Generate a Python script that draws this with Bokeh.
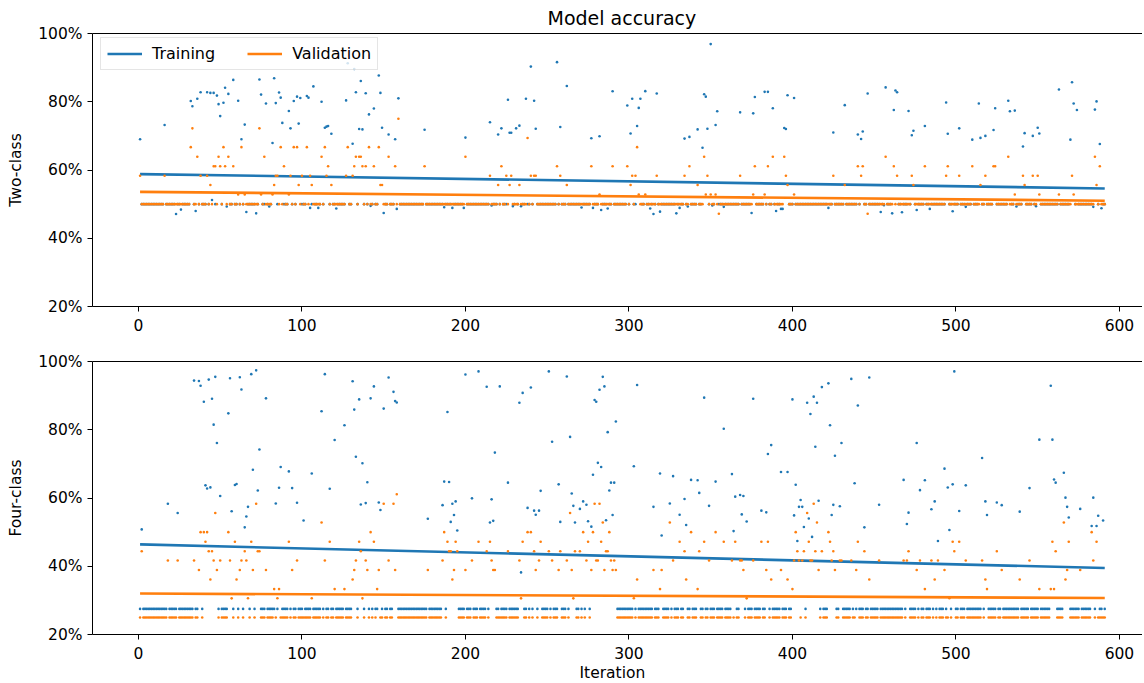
from bokeh.plotting import figure
from bokeh.models import Range1d, LinearAxis, FixedTicker, PrintfTickFormatter, Legend, LegendItem, Title
from bokeh.layouts import column
from bokeh.embed import file_html
from bokeh.resources import INLINE

# ---------------- data ----------------
iter_first, iter_last = 1, 591
x_ticks = [0, 100, 200, 300, 400, 500, 600]
y_ticks = [20, 40, 60, 80, 100]
trend_iters = [1, 591]

# Two-class panel
two_train_baseline = 50.0
two_val_baseline = 50.0
two_train_outliers = [
    (1, 69.0), (16, 73.2), (32, 80.2), (33, 78.7), (36, 80.9), (38, 82.8), (42, 82.8), (44, 82.6),
    (45, 51.2), (46, 82.6), (48, 81.8), (49, 79.3), (50, 75.8), (52, 79.7), (53, 84.1), (54, 49.3),
    (55, 82.3), (58, 86.4), (61, 80.3), (63, 69.0), (65, 73.3), (74, 86.5), (75, 82.1), (78, 79.5),
    (82, 67.9), (83, 86.9), (84, 79.6), (86, 82.7), (87, 81.2), (88, 73.8), (92, 77.3), (93, 72.2),
    (95, 80.2), (97, 81.5), (98, 73.6), (99, 81.1), (103, 81.7), (104, 81.2), (107, 84.5), (112, 80.0),
    (114, 72.4), (115, 72.7), (116, 72.9), (118, 70.6), (127, 80.4), (128, 91.3), (131, 67.7), (132, 89.6),
    (133, 82.8), (135, 72.0), (136, 86.1), (137, 71.9), (139, 82.5), (141, 76.3), (144, 78.0), (147, 87.7),
    (148, 82.6), (149, 72.4), (153, 70.4), (157, 69.0), (159, 81.0), (175, 71.8),
    (23, 47.1), (26, 48.4), (35, 48.0), (66, 47.7), (72, 47.3), (80, 49.3), (105, 48.9), (110, 48.9),
    (121, 48.7), (142, 49.5), (150, 47.4), (158, 48.6),
    (200, 69.5), (215, 74.0), (220, 70.4), (222, 72.2), (226, 80.6), (227, 70.9), (228, 70.9), (231, 72.2),
    (233, 73.0), (237, 80.9), (240, 90.3), (242, 80.3), (243, 72.1), (256, 91.6), (258, 72.6), (262, 84.6),
    (277, 69.3), (282, 69.9), (290, 83.1), (299, 78.9), (301, 70.7), (302, 80.9), (305, 72.9), (306, 78.2),
    (307, 80.9), (310, 83.1), (317, 82.4), (334, 69.2), (337, 69.7), (342, 71.9), (345, 66.5), (346, 82.2),
    (347, 81.5), (348, 72.1), (350, 96.9), (353, 73.2), (354, 77.2), (368, 76.9), (376, 76.6), (377, 81.4),
    (383, 82.9), (385, 82.9), (388, 78.1),
    (187, 49.1), (192, 48.9), (199, 48.9), (216, 49.6), (229, 49.4), (234, 49.4), (271, 49.0), (278, 48.9),
    (283, 48.3), (287, 48.7), (313, 48.7), (315, 47.1), (319, 47.8), (329, 47.3), (331, 48.9), (336, 49.3),
    (351, 49.6), (358, 49.2), (375, 47.4), (390, 48.0),
    (395, 72.3), (396, 72.0), (397, 81.9), (401, 81.1), (425, 71.0), (432, 79.0), (440, 70.4), (442, 69.1),
    (443, 71.3), (446, 82.4), (457, 84.2), (462, 77.6), (463, 83.3), (464, 82.8), (471, 77.3), (473, 70.2),
    (474, 71.5), (481, 72.9), (494, 79.8), (495, 70.6), (502, 72.2), (510, 68.9), (514, 79.5), (515, 69.4),
    (518, 70.0), (523, 71.7), (524, 78.1), (532, 80.3), (533, 77.2), (536, 77.4), (541, 66.9), (542, 70.8),
    (547, 70.0), (550, 72.4), (551, 70.7), (563, 83.6), (570, 68.9), (571, 85.7), (572, 79.5), (574, 77.6),
    (585, 77.7), (586, 80.1), (588, 67.6),
    (393, 48.6), (394, 48.6), (422, 48.9), (454, 47.7), (456, 49.7), (461, 47.3), (467, 47.6), (476, 48.3),
    (484, 48.6), (498, 47.9), (506, 49.2), (537, 49.3), (549, 49.4), (584, 49.2), (589, 48.8),
]
# validation accuracy levels (%) -> iterations at that level
two_val_levels = {
    75.0: [159],
    72.2: [33, 74],
    69.4: [238],
    66.7: [32, 52, 63, 87, 95, 97, 103, 114, 128, 141, 147, 305],
    63.9: [36, 49, 55, 77, 112, 133, 135, 136, 153, 200, 346, 388, 395, 457, 532, 585],
    61.1: [46, 47, 50, 53, 58, 89, 116, 132, 137, 139, 144, 157, 175, 222, 256, 277, 290, 299, 337,
           377, 385, 440, 443, 462, 481, 495, 510, 523, 524, 588],
    58.3: [1, 16, 38, 42, 84, 85, 93, 100, 105, 115, 127, 131, 215, 225, 228, 240, 242, 243, 258, 302,
           304, 317, 334, 348, 368, 396, 425, 442, 464, 473, 494, 502, 518, 541, 547, 550, 571],
    55.6: [44, 83, 98, 106, 118, 148, 149, 220, 227, 233, 262, 301, 342, 397, 432, 474, 515, 542, 586],
    52.8: [61, 65, 75, 82, 92, 282, 306, 310, 347, 350, 353, 376, 383, 401, 536, 551, 563, 572],
    47.2: [355, 446],
}
two_train_trend = [58.8, 54.6]
two_val_trend = [53.6, 51.0]

# Four-class panel
four_train_baseline = 27.5
four_val_baseline = 25.0
four_train_outliers = [
    (2, 50.8), (18, 58.3), (24, 55.6), (34, 94.4), (37, 94.3), (38, 92.9), (40, 88.2), (41, 63.7),
    (42, 62.8), (43, 94.7), (44, 63.1), (45, 89.1), (46, 81.5), (47, 95.5), (48, 76.1), (50, 60.6),
    (55, 84.8), (56, 95.1), (57, 56.1), (59, 63.8), (60, 64.1), (62, 95.4), (63, 91.8), (65, 51.4),
    (66, 54.6), (67, 57.4), (69, 96.3), (70, 68.3), (72, 97.4), (73, 62.2), (74, 74.2), (78, 89.2),
    (84, 58.4), (86, 63.0), (87, 69.1), (92, 67.8), (94, 62.9), (97, 58.6), (101, 53.4), (106, 67.2),
    (112, 85.4), (114, 96.3), (117, 62.7), (120, 77.0), (126, 81.3), (131, 94.2), (132, 85.9), (133, 72.1),
    (135, 88.9), (136, 58.1), (137, 70.2), (139, 58.5), (140, 64.6), (142, 89.2), (144, 92.7), (147, 58.7),
    (148, 56.5), (150, 86.2), (153, 95.3), (156, 91.1), (157, 88.4), (158, 88.0), (177, 53.9),
    (186, 57.9), (187, 64.8), (189, 85.2), (190, 64.7), (191, 53.0), (192, 58.3), (193, 55.0), (194, 59.0),
    (195, 50.5), (200, 96.2), (204, 59.9), (208, 97.1), (213, 92.6), (215, 52.8), (216, 59.6), (217, 53.3),
    (218, 73.3), (221, 92.7), (226, 64.5), (233, 87.9), (234, 38.2), (235, 90.8), (238, 57.1), (240, 92.4),
    (242, 56.3), (243, 55.1), (245, 56.3), (246, 62.1), (251, 97.1), (253, 76.5), (257, 64.0), (258, 53.0),
    (262, 95.6), (264, 77.9), (265, 61.3), (266, 57.7), (267, 52.8), (270, 56.8), (272, 59.0), (274, 58.0),
    (275, 53.2), (277, 51.6), (278, 66.8), (279, 88.7), (280, 88.2), (281, 70.3), (282, 91.7), (283, 69.1),
    (284, 95.5), (285, 92.7), (286, 53.5), (287, 79.3), (288, 62.2), (289, 64.5), (290, 55.0), (291, 64.5),
    (292, 82.4), (303, 69.3), (305, 93.1), (315, 57.4), (319, 67.2), (320, 49.0), (325, 58.4), (327, 66.4),
    (331, 55.1), (334, 59.7), (335, 52.1), (338, 65.3), (342, 65.2), (343, 61.5), (346, 89.4), (349, 57.7),
    (353, 64.8), (358, 80.3), (363, 67.0), (364, 50.3), (365, 60.4), (368, 60.9), (369, 55.2), (370, 60.6),
    (372, 53.1), (376, 89.1), (381, 56.3), (384, 55.8), (385, 72.9), (387, 75.5),
    (393, 67.6), (397, 67.6), (400, 88.9), (401, 54.9), (402, 63.9), (403, 47.4), (404, 57.4), (405, 59.4),
    (406, 57.4), (407, 51.5), (409, 87.9), (410, 54.0), (411, 84.6), (412, 48.6), (413, 89.7), (414, 75.0),
    (415, 87.9), (416, 59.2), (418, 92.5), (422, 93.6), (423, 81.3), (424, 55.0), (425, 58.0), (426, 72.4),
    (429, 57.6), (430, 76.1), (436, 94.9), (438, 64.3), (440, 87.1), (444, 51.4), (447, 95.3), (453, 58.0),
    (468, 65.3), (470, 52.4), (471, 55.7), (476, 76.1), (478, 62.3), (481, 65.2), (485, 56.7), (487, 59.0),
    (489, 47.4), (493, 68.6), (495, 63.1), (496, 50.6), (498, 64.0), (499, 97.1), (502, 56.2), (506, 63.7),
    (516, 71.7), (518, 59.0), (519, 55.0), (525, 58.7), (528, 57.9), (539, 56.0), (545, 62.9), (551, 77.1),
    (558, 92.9), (559, 77.1), (560, 65.4), (561, 64.5), (566, 67.4), (567, 60.1), (568, 57.4), (569, 54.3),
    (576, 56.8), (583, 51.8), (584, 60.1), (586, 51.8), (587, 54.8), (590, 53.4),
]
four_val_levels = {
    61.1: [158],
    58.3: [72, 150, 156, 279, 282, 413],
    55.6: [47, 264, 409],
    52.8: [112, 284, 325, 415, 566],
    50.0: [38, 40, 42, 55, 142, 187, 238, 240, 272, 278, 288, 338, 353, 402, 422, 583],
    47.2: [41, 59, 69, 92, 117, 135, 144, 189, 194, 208, 215, 235, 246, 275, 283, 331, 346, 358, 365,
           381, 385, 410, 423, 440, 498, 502, 559, 569, 586],
    44.4: [2, 43, 45, 65, 73, 74, 136, 190, 191, 195, 213, 226, 242, 251, 258, 267, 270, 286, 287, 334,
           343, 403, 407, 414, 418, 425, 444, 471, 499, 525, 561],
    41.7: [18, 24, 34, 46, 50, 56, 63, 66, 97, 114, 133, 139, 153, 186, 204, 216, 233, 245, 253, 262,
           274, 280, 281, 289, 291, 327, 349, 363, 368, 369, 376, 401, 404, 406, 411, 412, 424, 429, 430,
           436, 453, 468, 470, 478, 485, 489, 506, 516, 545, 584],
    38.9: [37, 48, 62, 70, 78, 94, 132, 140, 147, 157, 177, 193, 200, 217, 218, 243, 257, 265, 277, 285,
           290, 292, 315, 320, 370, 384, 393, 416, 426, 439, 476, 493, 528, 568, 576],
    36.1: [44, 60, 131, 192, 305, 335, 387, 397, 447, 487, 518, 539, 567],
    33.3: [83, 86, 120, 126, 146, 319, 342, 400, 481, 519, 551, 558, 560],
    30.6: [57, 67, 85, 106, 137, 234, 266, 303, 372, 496],
}
four_train_trend = [46.4, 39.5]
four_val_trend = [32.0, 30.7]

# ---------------- build series ----------------
iterations = list(range(iter_first, iter_last + 1))


def series_from_outliers(baseline, outliers):
    d = dict(outliers)
    return [d.get(i, baseline) for i in iterations]


def series_from_levels(baseline, levels):
    d = {}
    for lvl, its in levels.items():
        for i in its:
            d[i] = lvl
    return [d.get(i, baseline) for i in iterations]


BLUE = "#1f77b4"
ORANGE = "#ff7f0e"
FONT = "DejaVu Sans"
TICK_PX = "15.5px"
FRAME_W = 1050


def style_axis(ax, ticks, fmt=None, standoff=6):
    ax.ticker = FixedTicker(ticks=ticks, minor_ticks=[])
    if fmt is not None:
        ax.formatter = fmt
    ax.major_tick_out = 5
    ax.major_tick_in = 0
    ax.minor_tick_out = 0
    ax.minor_tick_in = 0
    ax.axis_line_color = "black"
    ax.major_tick_line_color = "black"
    ax.major_label_text_font = FONT
    ax.major_label_text_font_size = TICK_PX
    ax.major_label_text_color = "black"
    ax.major_label_standoff = standoff
    ax.axis_label_text_font = FONT
    ax.axis_label_text_font_size = TICK_PX
    ax.axis_label_text_font_style = "normal"
    ax.axis_label_text_color = "black"


def make_panel(ylabel, tr_y, va_y, tr_trend, va_trend, top_border, bottom_border, with_legend):
    p = figure(frame_width=FRAME_W, frame_height=273,
               x_range=Range1d(-28.1, -28.1 + FRAME_W / 1.635), y_range=Range1d(20, 100),
               output_backend="svg", toolbar_location=None,
               min_border_left=92, min_border_right=0,
               min_border_top=top_border, min_border_bottom=bottom_border,
               background_fill_color="white", border_fill_color="white")
    p.outline_line_color = None
    p.xgrid.visible = False
    p.ygrid.visible = False
    style_axis(p.xaxis[0], x_ticks, standoff=7)
    style_axis(p.yaxis[0], y_ticks, PrintfTickFormatter(format="%d%%"), standoff=5)
    p.yaxis[0].axis_label = ylabel
    p.yaxis[0].axis_label_standoff = 10
    top = LinearAxis(ticker=FixedTicker(ticks=[], minor_ticks=[]), axis_line_color="black",
                     major_tick_line_color=None, minor_tick_line_color=None,
                     major_label_text_font_size="0px")
    p.add_layout(top, "above")

    p.scatter(iterations, tr_y, size=2.6, color=BLUE, line_color=None)
    r_tr = p.line(trend_iters, tr_trend, line_width=2.6, color=BLUE)
    p.scatter(iterations, va_y, size=2.6, color=ORANGE, line_color=None)
    r_va = p.line(trend_iters, va_trend, line_width=2.6, color=ORANGE)

    if with_legend:
        leg = Legend(items=[LegendItem(label="Training", renderers=[r_tr]),
                            LegendItem(label="Validation", renderers=[r_va])],
                     orientation="horizontal", location=(8, 236), margin=0,
                     padding=6, spacing=32, label_standoff=10, glyph_width=35, glyph_height=19,
                     label_text_font=FONT, label_text_font_size="16px", label_text_color="black",
                     border_line_color="#cccccc", border_line_width=1,
                     background_fill_color="white", background_fill_alpha=0.8)
        p.add_layout(leg, "center")
    return p


p1 = make_panel("Two-class",
                series_from_outliers(two_train_baseline, two_train_outliers),
                series_from_levels(two_val_baseline, two_val_levels),
                two_train_trend, two_val_trend, 32, 35, True)
p1.add_layout(Title(text="Model accuracy", align="left", offset=455, text_font=FONT,
                    text_font_size="19px", text_font_style="normal", text_color="black",
                    standoff=9), "above")

p2 = make_panel("Four-class",
                series_from_outliers(four_train_baseline, four_train_outliers),
                series_from_levels(four_val_baseline, four_val_levels),
                four_train_trend, four_val_trend, 20, 47, False)
p2.add_layout(Title(text="Iteration", align="left", offset=487, text_font=FONT,
                    text_font_size="15.5px", text_font_style="normal", text_color="black",
                    standoff=0), "below")

layout = column(p1, p2, spacing=0)
open("out.html", "w").write(file_html(layout, INLINE))
